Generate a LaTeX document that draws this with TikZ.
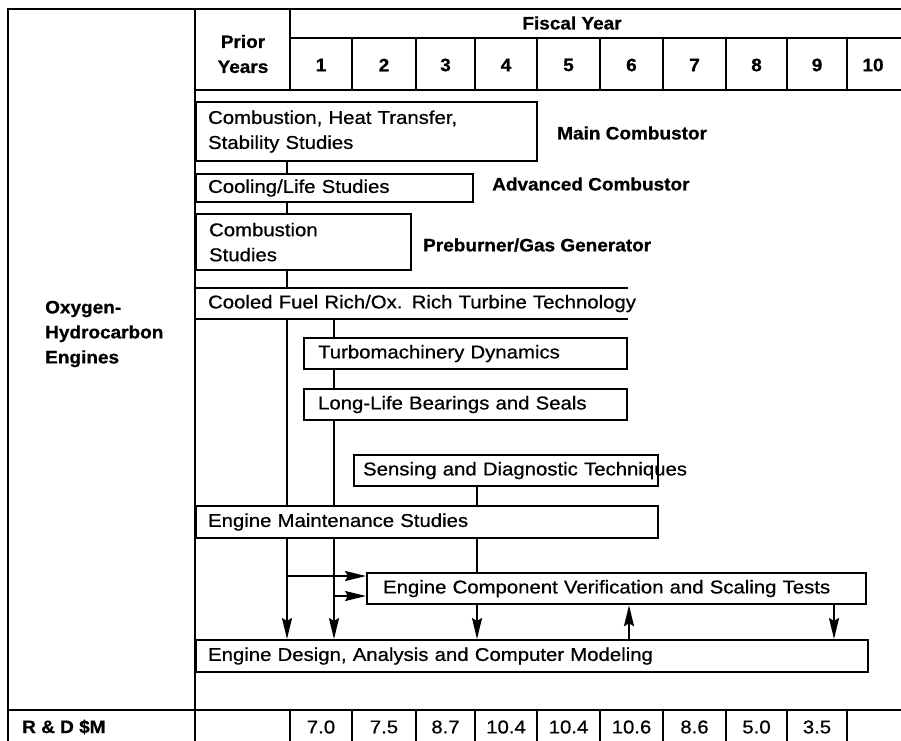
\documentclass[tikz,border=0pt]{standalone}
\usepackage{fontspec}
\setmainfont{Liberation Sans}
\newfontfamily\regf[FakeStretch=1.1,FakeBold=0.6]{Liberation Sans}
\newfontfamily\boldf[FakeStretch=1.055,FakeBold=0.8]{Liberation Sans}
\usetikzlibrary{arrows.meta}
\tikzset{
  ln/.style={line width=2.2pt},
  bx/.style={draw, line width=2.2pt, anchor=north west, inner ysep=0pt, align=left,
    font=\regf\fontsize{18.5}{25}\selectfont},
  lbl/.style={font=\boldf\bfseries\fontsize{18}{25}\selectfont, inner sep=0pt},
  val/.style={font=\regf\fontsize{18.5}{25}\selectfont, inner sep=0pt},
  arr/.style={line width=2.2pt, -{Stealth[length=21pt,width=10pt,inset=3pt]}},
}
\begin{document}
\begin{tikzpicture}[x=1pt,y=-1pt]
\useasboundingbox (0,0) rectangle (901,740);
\clip (0,0) rectangle (901,740);
\fill[white] (0,0) rectangle (901,740);
% table frame
\draw[ln] (8,745) -- (8,9) -- (910,9);
\draw[ln] (195,9) -- (195,745);
\draw[ln] (290,9) -- (290,90);
\draw[ln] (290,38) -- (910,38);
\draw[ln] (195,90) -- (910,90);
\foreach \x in {352,416,475,537,600,663,726,787,847}{
  \draw[ln] (\x,38) -- (\x,90);
  \draw[ln] (\x,710) -- (\x,745);
}
\draw[ln] (8,710) -- (910,710);
\draw[ln] (290,710) -- (290,745);
% header texts
\node[lbl] (fy) at (572,23) {Fiscal Year};
\node[lbl, align=center] (py) at (243,54) {Prior\\Years};
\foreach \c/\t [count=\i] in {321/1,384/2,445.5/3,506/4,568.5/5,631.5/6,694.5/7,756.5/8,817/9,873/10}{
  \node[lbl] (yr\i) at (\c,65) {\t};
}
\node[lbl, align=left, anchor=west] (oh) at (45,334) {Oxygen-\\Hydrocarbon\\Engines};
\node[lbl, anchor=west] (rd) at (22,727) {R \& D \$M};
\foreach \c/\t [count=\i] in {321/7.0,384/7.5,445.5/8.7,506/10.4,568.5/10.4,631.5/10.6,694.5/8.6,756.5/5.0,817/3.5}{
  \node[val] (v\i) at (\c,727) {\t};
}
% boxes
\node[bx, minimum width=341pt, minimum height=59pt, inner xsep=12pt, text width=317pt] (b1) at (195,101) {Combustion, Heat Transfer,\\Stability Studies};
\node[bx, minimum width=277pt, minimum height=28pt, inner xsep=12pt, text width=253pt] (b2) at (195,173) {Cooling/Life Studies};
\node[bx, minimum width=215pt, minimum height=56pt, inner xsep=13pt, text width=189pt] (b3) at (195,213) {Combustion\\Studies};
\node[bx, draw=none, minimum width=431pt, minimum height=29pt, inner xsep=12pt, text width=407pt] (b4) at (195,288) {\mbox{Cooled Fuel Rich/Ox. Rich Turbine Technology}};
\draw[ln] (b4.north east) -- (b4.north west) -- (b4.south west) -- (b4.south east);
\node[bx, minimum width=323pt, minimum height=31pt, inner xsep=14pt, text width=295pt] (b5) at (303,337) {Turbomachinery Dynamics};
\node[bx, minimum width=323pt, minimum height=31pt, inner xsep=14pt, text width=295pt] (b6) at (303,388) {Long-Life Bearings and Seals};
\node[bx, minimum width=304pt, minimum height=31pt, inner xsep=9pt, text width=286pt] (b7) at (353,454) {\mbox{Sensing and Diagnostic Techniques}};
\node[bx, minimum width=462pt, minimum height=32pt, inner xsep=12pt, text width=438pt] (b8) at (195,505) {Engine Maintenance Studies};
\node[bx, minimum width=499pt, minimum height=31pt, inner xsep=16pt, text width=467pt] (b9) at (366,572) {\mbox{Engine Component Verification and Scaling Tests}};
\node[bx, minimum width=672pt, minimum height=32pt, inner xsep=12pt, text width=648pt] (b10) at (195,639) {Engine Design, Analysis and Computer Modeling};
% side labels
\node[lbl, anchor=west] (mc) at (557,133) {Main Combustor};
\node[lbl, anchor=west] (ac) at (492,184) {Advanced Combustor};
\node[lbl, anchor=west] (pg) at (423,245) {Preburner/Gas Generator};
% connector columns
\coordinate (cA) at (287,0);
\coordinate (cB) at (334,0);
\coordinate (cC) at (477,0);
\coordinate (cD) at (629,0);
\coordinate (cE) at (834,0);
\draw[ln] (b1.south -| cA) -- (b2.north -| cA);
\draw[ln] (b2.south -| cA) -- (b3.north -| cA);
\draw[ln] (b3.south -| cA) -- (b4.north -| cA);
\draw[ln] (b4.south -| cA) -- (b8.north -| cA);
\draw[arr] (b8.south -| cA) -- (b10.north -| cA);
\draw[ln] (b4.south -| cB) -- (b5.north -| cB);
\draw[ln] (b5.south -| cB) -- (b6.north -| cB);
\draw[ln] (b6.south -| cB) -- (b8.north -| cB);
\draw[arr] (b8.south -| cB) -- (b10.north -| cB);
\draw[ln] (b7.south -| cC) -- (b8.north -| cC);
\draw[ln] (b8.south -| cC) -- (b9.north -| cC);
\draw[arr] (b9.south -| cC) -- (b10.north -| cC);
\draw[arr] (b10.north -| cD) -- (b9.south -| cD);
\draw[arr] (b9.south -| cE) -- (b10.north -| cE);
\coordinate (h1) at (287,576);
\coordinate (h2) at (334,596);
\draw[arr] (h1) -- (h1 -| b9.west);
\draw[arr] (h2) -- (h2 -| b9.west);
\end{tikzpicture}
\end{document}
